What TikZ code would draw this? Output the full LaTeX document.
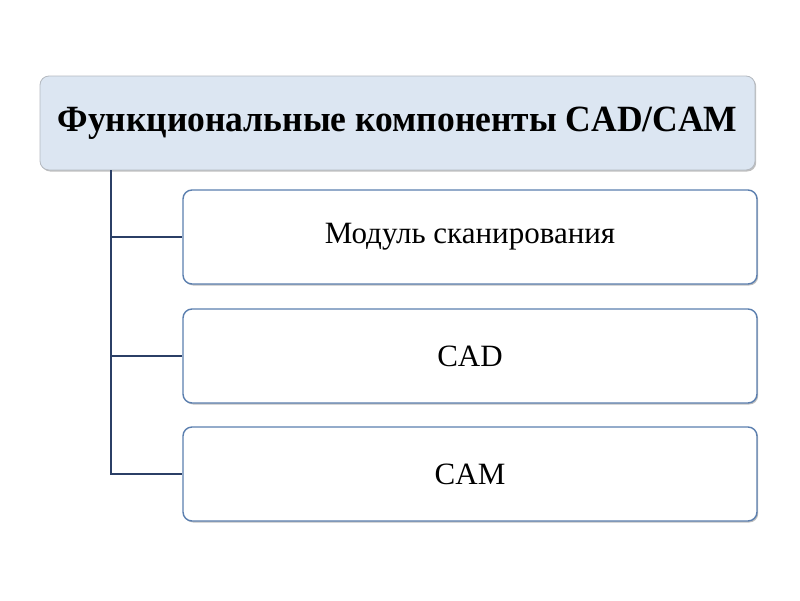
\documentclass[tikz,border=0pt]{standalone}
\usepackage{fontspec}
\setmainfont{Liberation Serif}
\newfontfamily\headfont[FakeStretch=0.96]{Liberation Serif}
\usetikzlibrary{math,shadows}

\definecolor{headfill}{HTML}{DCE6F2}
\definecolor{headline}{HTML}{B4B9C0}
\definecolor{itemline}{HTML}{5B7FAF}
\definecolor{linkline}{HTML}{2B3F66}

\tikzset{
  head/.style={draw=headline, fill=headfill, rounded corners=9pt, line width=0.8pt,
    minimum width=715pt, minimum height=94pt, inner sep=0pt,
    font=\headfont\fontsize{37}{42}\selectfont\bfseries,
    drop shadow={shadow xshift=1.2pt, shadow yshift=-1.5pt, opacity=0.5}},
  item/.style={draw=itemline, fill=white, rounded corners=9pt, line width=1.4pt,
    minimum width=\w pt, minimum height=\h pt, inner sep=0pt,
    font=\fontsize{31}{36}\selectfont,
    drop shadow={shadow xshift=1.2pt, shadow yshift=-1.5pt, opacity=0.5}},
  link/.style={draw=linkline, line width=1.2pt}
}

\begin{document}
\begin{tikzpicture}[x=1pt,y=-1pt]
  \tikzmath{\w = 574; \h = 94;}
  \useasboundingbox (0,0) rectangle (800,600);

  % heading
  \node[head] (cad) at (397.5,123) {Функциональные компоненты CAD/CAM};

  % sub blocks
  \node[item] (scan) at (470,237) {Модуль сканирования};
  \node[item] (cadblk) at (470,356) {CAD};
  \node[item] (camblk) at (470,474) {CAM};

  % tree lines
  \coordinate (trunk) at (cad.south -| 111,0);
  \draw[link] (trunk) |- (scan.west);
  \draw[link] (trunk) |- (cadblk.west);
  \draw[link] (trunk) |- (camblk.west);
\end{tikzpicture}
\end{document}
